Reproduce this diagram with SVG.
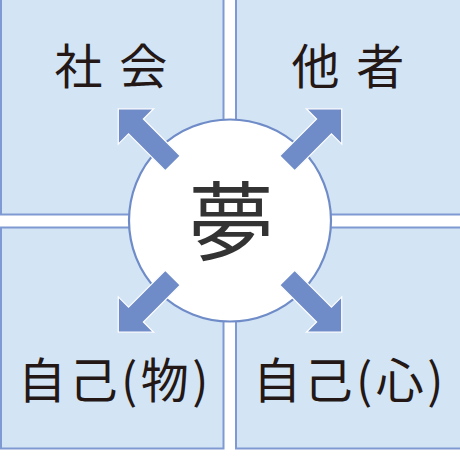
<svg xmlns="http://www.w3.org/2000/svg" width="460" height="460" viewBox="0 0 460 460">
<style>
.panel{fill:#d3e4f5;stroke:#7f9ad2;stroke-width:2}
.lbl{font-family:"Noto Sans CJK JP","Noto Sans CJK SC",sans-serif;font-size:48px;fill:#231815}
.wide{letter-spacing:3.5px}
.arrow{fill:#6f8cc8;stroke:#ffffff;stroke-width:1.2;stroke-linejoin:miter}
</style>
<defs>
<path id="arr" d="M0,-10.5 L52,-10.5 L52,-25 L77,0 L52,25 L52,10.5 L0,10.5 Z"/>
</defs>
<rect width="460" height="460" fill="#ffffff"/>
<g id="shakai">
<rect class="panel" x="1" y="-5" width="222.5" height="219.5"/>
<text class="lbl" x="111" y="84" text-anchor="middle" style="word-spacing:6px">社 会</text>
</g>
<g id="tasha">
<rect class="panel" x="236" y="-5" width="230" height="219.5"/>
<text class="lbl" x="348" y="84" text-anchor="middle" style="word-spacing:6px">他 者</text>
</g>
<g id="jiko-mono">
<rect class="panel" x="1" y="227.5" width="222.5" height="221"/>
<text class="lbl wide" x="115" y="398" text-anchor="middle">自己(物)</text>
</g>
<g id="jiko-kokoro">
<rect class="panel" x="236" y="227.5" width="230" height="221"/>
<text class="lbl wide" x="350" y="398" text-anchor="middle">自己(心)</text>
</g>
<g id="yume">
<circle cx="230" cy="220.5" r="101" fill="#ffffff" stroke="#6f8cc8" stroke-width="2.2"/>
<text x="231" y="254" text-anchor="middle" font-family="Noto Sans CJK JP, Noto Sans CJK SC, sans-serif" font-size="86" fill="#333333">夢</text>
</g>
<g id="connectors">
<use href="#arr" class="arrow" transform="translate(230,220.5) rotate(-135) translate(81,0)"/>
<use href="#arr" class="arrow" transform="translate(230,220.5) rotate(-45) translate(81,0)"/>
<use href="#arr" class="arrow" transform="translate(230,220.5) rotate(135) translate(81,0)"/>
<use href="#arr" class="arrow" transform="translate(230,220.5) rotate(45) translate(81,0)"/>
</g>
</svg>
